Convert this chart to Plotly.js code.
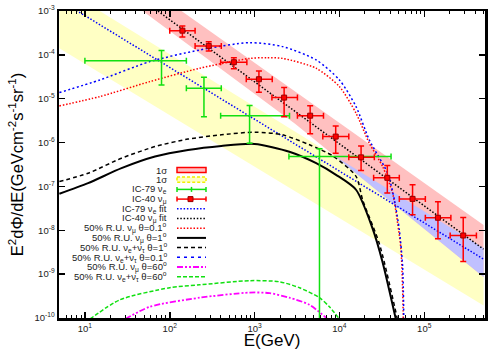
<!DOCTYPE html>
<html>
<head>
<meta charset="utf-8">
<script src="https://cdn.plot.ly/plotly-3.0.1.min.js"></script>
<style>
  html, body { margin: 0; padding: 0; background: #fff; }
  #chart { width: 500px; height: 350px; }
</style>
</head>
<body>
<div id="chart"></div>
<script>
// IC-40 nu_mu unfolded points (E in GeV, E^2 dPhi/dE in GeV cm^-2 s^-1 sr^-1)
const ic40E = [141, 288, 570, 1125, 2230, 4520, 9040, 18000, 36700, 72800, 145000, 288000];
const ic40Flux = [3.56e-4, 1.6e-4, 6.8e-5, 2.78e-5, 1.06e-5, 4.1e-6, 1.37e-6, 4.6e-7, 1.57e-7, 5.2e-8, 1.93e-8, 7.6e-9];
const ic40ELo = [100, 199, 398, 798, 1600, 3200, 6370, 12900, 25300, 50800, 103000, 202000];
const ic40EHi = [199, 405, 811, 1615, 3200, 6490, 12900, 25800, 50800, 103000, 206000, 412000];
const ic40FluxLo = [2.56e-4, 1.23e-4, 4.8e-5, 1.4e-5, 3.9e-6, 1.58e-6, 5.7e-7, 2.3e-7, 7.1e-8, 2.25e-8, 6.4e-9, 1.95e-9];
const ic40FluxHi = [4.55e-4, 2.0e-4, 8.6e-5, 4.3e-5, 1.79e-5, 6.9e-6, 2.4e-6, 8.4e-7, 3.0e-7, 1.09e-7, 4.5e-8, 1.96e-8];

// IC-79 nu_e points
const ic79E = [80, 253, 873, 5820];
const ic79Flux = [7.3e-5, 1.73e-5, 4.1e-6, 4.8e-7];
const ic79ELo = [10, 157, 398, 2540];
const ic79EHi = [157, 405, 2580, 40600];
const ic79FluxLo = [2.06e-5, 3.9e-6, 9.7e-7, 1e-12];
const ic79FluxHi = [1.25e-4, 3.1e-5, 7.0e-6, 7.2e-7];

// power-law fits (end points)
const fitE = [5, 5e5];
const ic79Fit = [1.78e-3, 2.2e-9];
const ic40Fit = [4.37e-2, 3.7e-9];

// 1 sigma bands
const bandE = [5, 3000, 5e5];
const pinkHi = [9.4e-2, 1.46e-5, 1.32e-8];
const pinkLo = [2.56e-2, 2.67e-6, 8.6e-10];
const yellowHi = [3.7e-3, 1.78e-6, 3.95e-9];
const yellowLo = [1.42e-4, 7.8e-8, 1.93e-10];

// 50% R.U. model curves
const nuMu01E = [5, 15, 58, 225, 873, 1400, 2150, 5320, 10000, 15700, 22500, 32300, 42400, 48500, 53200, 55600, 56600];
const nuMu01Flux = [6.85e-6, 1.12e-5, 2.45e-5, 4.95e-5, 8.3e-5, 8.6e-5, 8.3e-5, 4.95e-5, 1.89e-5, 4.68e-6, 9.7e-7, 2.84e-7, 7.0e-8, 1.46e-8, 3.6e-9, 4.4e-10, 9e-11];
const nuEtau01E = [5, 15, 58, 225, 873, 2150, 5320, 10000, 15700, 22500, 37000, 44400, 50800, 55600, 57400];
const nuEtau01Flux = [1.38e-5, 2.68e-5, 7.0e-5, 1.29e-4, 1.9e-4, 1.54e-4, 7.66e-5, 2.68e-5, 6.6e-6, 1.15e-6, 2.0e-7, 4.95e-8, 1.03e-8, 1.5e-9, 9e-11];
const nuMu1E = [5, 10.9, 27, 67, 164, 406, 1000, 2570, 5320, 9120, 15700, 24500, 32100, 46500];
const nuMu1Flux = [6.8e-8, 1.19e-7, 2.61e-7, 4.8e-7, 6.8e-7, 8.4e-7, 9.3e-7, 6.2e-7, 3.4e-7, 1.84e-7, 8.4e-8, 1.12e-8, 1.95e-9, 9e-11];
const nuEtau1E = [5, 10.9, 27, 67, 164, 406, 1000, 2140, 4440, 8280, 15700, 18800, 29500, 48500];
const nuEtau1Flux = [1.29e-7, 2.0e-7, 4.4e-7, 8.1e-7, 1.2e-6, 1.5e-6, 1.73e-6, 1.5e-6, 8.9e-7, 5.0e-7, 1.7e-7, 4.9e-8, 5.0e-9, 9e-11];
const nuMu60E = [30, 58, 225, 873, 1500, 2580, 4440, 7230];
const nuMu60Flux = [9.5e-11, 1.8e-10, 2.9e-10, 3.8e-10, 3.7e-10, 2.9e-10, 2.0e-10, 9.5e-11];
const nuEtau60E = [11.5, 25.8, 100, 225, 873, 1970, 3380, 5820, 7620, 10000];
const nuEtau60Flux = [9.5e-11, 2.6e-10, 4.9e-10, 5.7e-10, 7.1e-10, 6.7e-10, 4.9e-10, 2.9e-10, 1.8e-10, 9.5e-11];

// ticks
const xTickVals = [10, 100, 1e3, 1e4, 1e5];
const xTickText = ['10<sup>1</sup>', '10<sup>2</sup>', '10<sup>3</sup>', '10<sup>4</sup>', '10<sup>5</sup>'];
const yTickVals = [1e-10, 1e-9, 1e-8, 1e-7, 1e-6, 1e-5, 1e-4, 1e-3];
const yTickText = ['10<sup>-10</sup>', '10<sup>-9</sup>', '10<sup>-8</sup>', '10<sup>-7</sup>',
                   '10<sup>-6</sup>', '10<sup>-5</sup>', '10<sup>-4</sup>', '10<sup>-3</sup>'];

// legend entries
const legendLabels = [
  '1σ', '1σ', 'IC-79 ν<sub>e</sub>', 'IC-40 ν<sub>μ</sub>',
  'IC-79 ν<sub>e</sub> fit', 'IC-40 ν<sub>μ</sub> fit',
  '50% R.U. ν<sub>μ</sub> θ=0.1<sup>o</sup>',
  '50% R.U. ν<sub>μ</sub> θ=1<sup>o</sup>',
  '50% R.U. ν<sub>e</sub>+ν<sub>τ</sub> θ=1<sup>o</sup>',
  '50% R.U. ν<sub>e</sub>+ν<sub>τ</sub> θ=0.1<sup>o</sup>',
  '50% R.U. ν<sub>μ</sub> θ=60<sup>o</sup>',
  '50% R.U. ν<sub>e</sub>+ν<sub>τ</sub> θ=60<sup>o</sup>'
];

const FONT = 'Liberation Sans, Arial, Helvetica, sans-serif';
const RED = '#ff0000', GREEN = '#11e011', BLUE = '#0000ff', MAGENTA = '#ff00ff';
const PINK_FILL = '#ffc0c0', YELLOW_FILL = '#ffffc4', BLUE_FILL = '#c0c0ff';

// line styles shared by curves and the legend samples
const STY = {
  ic79Fit: { color: BLUE, width: 1.5, dash: '1.5px,1.8px' },
  ic40Fit: { color: '#000', width: 1.5, dash: '1.5px,1.8px' },
  nuMu01: { color: RED, width: 1.5, dash: '1.5px,1.8px' },
  nuMu1: { color: '#000', width: 2, dash: 'solid' },
  nuEtau1: { color: '#000', width: 1.5, dash: '4px,3px' },
  nuEtau01: { color: BLUE, width: 1.5, dash: '2px,2.5px' },
  nuMu60: { color: MAGENTA, width: 1.8, dash: '6px,2px,2px,2px,2px,2px' },
  nuEtau60: { color: GREEN, width: 1.5, dash: '4px,2px' }
};

// log-log interpolation along a band edge
function logInterp(xs, ys, lx) {
  for (let i = 0; i < xs.length - 1; i++) {
    const a = Math.log10(xs[i]), b = Math.log10(xs[i + 1]);
    if (lx <= b || i === xs.length - 2) {
      const t = (lx - a) / (b - a);
      return Math.pow(10, Math.log10(ys[i]) + t * (Math.log10(ys[i + 1]) - Math.log10(ys[i])));
    }
  }
}

// overlap of the two bands (drawn blue)
const ovE = [], ovTop = [], ovBot = [];
const la = Math.log10(bandE[0]), lb = Math.log10(bandE[bandE.length - 1]);
for (let i = 0; i <= 300; i++) {
  const lx = la + (lb - la) * i / 300;
  const top = Math.min(logInterp(bandE, pinkHi, lx), logInterp(bandE, yellowHi, lx));
  const bot = Math.max(logInterp(bandE, pinkLo, lx), logInterp(bandE, yellowLo, lx));
  if (top > bot) { ovE.push(Math.pow(10, lx)); ovTop.push(top); ovBot.push(bot); }
}

function band(xs, hi, lo, fill) {
  return {
    x: xs.concat(xs.slice().reverse()), y: hi.concat(lo.slice().reverse()),
    type: 'scatter', mode: 'lines', fill: 'toself', fillcolor: fill,
    line: { width: 0 }, hoverinfo: 'skip', showlegend: false
  };
}
function curve(xs, ys, style, shape) {
  return {
    x: xs, y: ys, type: 'scatter', mode: 'lines',
    line: Object.assign({ shape: shape || 'spline', smoothing: 0.7 }, style),
    hoverinfo: 'skip', showlegend: false
  };
}
function points(xs, ys, xlo, xhi, ylo, yhi, color, marker) {
  return {
    x: xs, y: ys, type: 'scatter', mode: 'markers', marker: marker, showlegend: false,
    error_x: { type: 'data', symmetric: false, array: xhi.map((v, i) => v - xs[i]),
               arrayminus: xs.map((v, i) => v - xlo[i]), color: color, thickness: 1.5, width: 3 },
    error_y: { type: 'data', symmetric: false, array: yhi.map((v, i) => v - ys[i]),
               arrayminus: ys.map((v, i) => v - ylo[i]), color: color, thickness: 1.5, width: 3 }
  };
}

const traces = [
  band(bandE, yellowHi, yellowLo, YELLOW_FILL),
  band(bandE, pinkHi, pinkLo, PINK_FILL),
  band(ovE, ovTop, ovBot, BLUE_FILL),
  curve(fitE, ic79Fit, STY.ic79Fit, 'linear'),
  curve(fitE, ic40Fit, STY.ic40Fit, 'linear'),
  curve(nuMu01E, nuMu01Flux, STY.nuMu01),
  curve(nuEtau01E, nuEtau01Flux, STY.nuEtau01),
  curve(nuMu1E, nuMu1Flux, STY.nuMu1),
  curve(nuEtau1E, nuEtau1Flux, STY.nuEtau1),
  curve(nuMu60E, nuMu60Flux, STY.nuMu60),
  curve(nuEtau60E, nuEtau60Flux, STY.nuEtau60),
  points(ic79E, ic79Flux, ic79ELo, ic79EHi, ic79FluxLo, ic79FluxHi, GREEN,
         { size: 2, color: GREEN }),
  points(ic40E, ic40Flux, ic40ELo, ic40EHi, ic40FluxLo, ic40FluxHi, RED,
         { symbol: 'square', size: 5, color: RED, line: { color: '#900', width: 1 } })
];

// hand-made gnuplot style key: text right aligned, sample on the right
const M = { l: 59, r: 15, t: 11, b: 32 };
const PW = 500 - M.l - M.r, PH = 350 - M.t - M.b;
const px = x => (x - M.l) / PW;
const py = y => 1 - (y - M.t) / PH;
const keyText = 169, keyS0 = 177, keyS1 = 206, keyY0 = 170, keyStep = 9.7;
const sampleKinds = [
  { box: true, fill: PINK_FILL, line: { color: RED, width: 1.5 } },
  { box: true, fill: YELLOW_FILL, line: { color: '#f0f000', width: 1.5, dash: '3px,2px' } },
  { bar: GREEN },
  { bar: RED, mark: true },
  STY.ic79Fit, STY.ic40Fit, STY.nuMu01, STY.nuMu1,
  STY.nuEtau1, { color: BLUE, width: 1.5, dash: '3px,4px' }, STY.nuMu60, STY.nuEtau60
];
const shapes = [], annotations = [];
legendLabels.forEach((lab, i) => {
  const y = keyY0 + i * keyStep;
  annotations.push({
    xref: 'paper', yref: 'paper', x: px(keyText), y: py(y), xanchor: 'right', yanchor: 'middle',
    text: lab, showarrow: false, font: { family: FONT, size: 9.5, color: '#222' }
  });
  const k = sampleKinds[i];
  if (k.box) {
    shapes.push({ type: 'rect', xref: 'paper', yref: 'paper', x0: px(keyS0), x1: px(keyS1),
                  y0: py(y - 2.6), y1: py(y + 2.6), fillcolor: k.fill, line: k.line });
  } else if (k.bar) {
    const ln = { color: k.bar, width: 1.5 };
    shapes.push({ type: 'line', xref: 'paper', yref: 'paper', x0: px(keyS0), x1: px(keyS1),
                  y0: py(y), y1: py(y), line: ln });
    [keyS0, (keyS0 + keyS1) / 2, keyS1].forEach(xx => {
      shapes.push({ type: 'line', xref: 'paper', yref: 'paper', x0: px(xx), x1: px(xx),
                    y0: py(y - 2.5), y1: py(y + 2.5), line: ln });
    });
    if (k.mark) {
      shapes.push({ type: 'rect', xref: 'paper', yref: 'paper', x0: px(188), x1: px(193),
                    y0: py(y - 2.5), y1: py(y + 2.5), fillcolor: RED, line: { color: '#900', width: 1 } });
    }
  } else {
    shapes.push({ type: 'line', xref: 'paper', yref: 'paper', x0: px(keyS0), x1: px(keyS1),
                  y0: py(y), y1: py(y), line: k });
  }
});

const axisCommon = {
  type: 'log', showline: true, linecolor: '#000', linewidth: 2.5, mirror: 'allticks',
  ticks: 'inside', ticklen: 6, tickwidth: 1.5, tickcolor: '#000', showgrid: false, zeroline: false,
  tickmode: 'array', tickfont: { family: FONT, size: 9.5, color: '#222' }
};

const layout = {
  width: 500, height: 350, margin: M,
  paper_bgcolor: '#fff', plot_bgcolor: '#fff', showlegend: false,
  font: { family: FONT, color: '#000' },
  xaxis: Object.assign({}, axisCommon, {
    range: [Math.log10(4.95), Math.log10(5.2e5)],
    tickvals: xTickVals, ticktext: xTickText,
    minor: { ticks: 'inside', ticklen: 3, tickwidth: 1, tickcolor: '#000', tickmode: 'linear', dtick: 'D1' },
    title: { text: 'E(GeV)', font: { family: FONT, size: 17 }, standoff: 0 }
  }),
  yaxis: Object.assign({}, axisCommon, {
    range: [-10, -3],
    tickvals: yTickVals, ticktext: yTickText,
    title: {
      text: 'E<sup>2</sup>dΦ/dE(GeVcm<sup>-2</sup>s<sup>-1</sup>sr<sup>-1</sup>)',
      font: { family: FONT, size: 16.5 }, standoff: 7
    }
  }),
  shapes: shapes,
  annotations: annotations
};

Plotly.newPlot('chart', traces, layout, { displayModeBar: false, staticPlot: true });
</script>
</body>
</html>
